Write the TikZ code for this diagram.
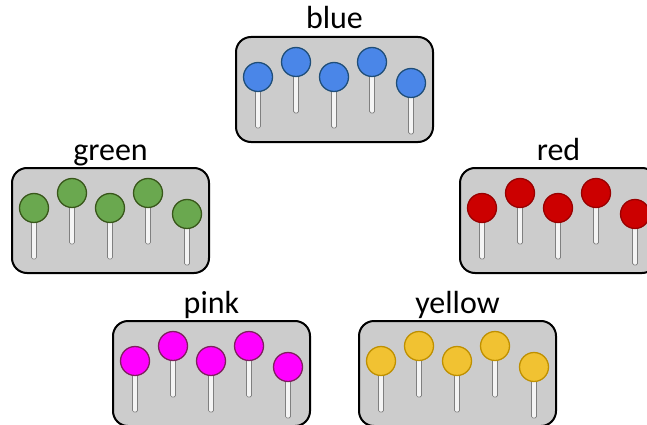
\documentclass[tikz,border=0pt]{standalone}
\usepackage{fontspec}
\setmainfont{Carlito}
\definecolor{boxgray}{HTML}{CCCCCC}
\definecolor{fblue}{HTML}{4A86E8}\definecolor{sblue}{HTML}{1F4E79}
\definecolor{fgreen}{HTML}{6AA84F}\definecolor{sgreen}{HTML}{38571A}
\definecolor{fred}{HTML}{CC0000}\definecolor{sred}{HTML}{990000}
\definecolor{fpink}{HTML}{FF00FF}\definecolor{spink}{HTML}{7F1F5F}
\definecolor{fyellow}{HTML}{F1C232}\definecolor{syellow}{HTML}{BF9000}
\definecolor{stickfill}{HTML}{F4F4F4}\definecolor{stickdraw}{HTML}{7F7F7F}
\tikzset{
  candybox/.style={draw=black, line width=2pt, fill=boxgray, rounded corners=15pt},
  stick/.style={draw=stickdraw, fill=stickfill, line width=0.7pt, rounded corners=1.5pt},
  lab/.style={font=\fontsize{32}{38}\selectfont, anchor=base, inner sep=0pt},
}
\newcommand\candygroup[5]{%
  \draw[candybox] (#2,#3) rectangle ++(197,105);
  \node[lab] (#1) at (#2+98.5,#3-8) {#1};
  \foreach \dx/\dy in {22/40,60/25,98/40,136/25,175/46} {
    \draw[stick] (#2+\dx-2.5,#3+\dy) rectangle (#2+\dx+2.5,#3+\dy+51);
    \draw[fill=#4, draw=#5, line width=1.3pt] (#2+\dx,#3+\dy) circle[radius=14.5pt];
  }%
}
\begin{document}
\begin{tikzpicture}[x=1pt,y=-1pt]
\clip (0,0) rectangle (647,425);
\fill[white] (0,0) rectangle (647,425);
\candygroup{blue}{236}{37}{fblue}{sblue}
\candygroup{green}{12}{168}{fgreen}{sgreen}
\candygroup{red}{460}{168}{fred}{sred}
\candygroup{pink}{113}{321}{fpink}{spink}
\candygroup{yellow}{359}{321}{fyellow}{syellow}
\end{tikzpicture}
\end{document}
